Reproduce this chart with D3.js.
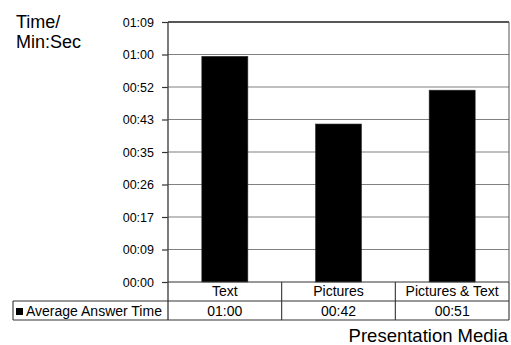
<!DOCTYPE html>
<html>
<head>
<meta charset="utf-8">
<script src="https://cdn.jsdelivr.net/npm/d3@7"></script>
<style>
  html, body { margin: 0; padding: 0; background: #fff; }
  svg { display: block; font-family: "Liberation Sans", Arial, Helvetica, sans-serif; }
</style>
</head>
<body>
<svg id="chart" width="511" height="345"></svg>
<script>
// Average answer time per presentation medium, in seconds
const categories = ["Text", "Pictures", "Pictures & Text"];
const seriesName = "Average Answer Time";
const answerSeconds = [60, 42, 51];
const answerLabels = ["01:00", "00:42", "00:51"];

// Axis ticks fall on 1/10000-day steps (8.64 s), labelled as rounded mm:ss
const tickValues = [0, 8.64, 17.28, 25.92, 34.56, 43.2, 51.84, 60.48, 69.12];
const tickLabels = ["00:00", "00:09", "00:17", "00:26", "00:35", "00:43", "00:52", "01:00", "01:09"];

const svg = d3.select("#chart");

const plot = { left: 168, right: 509, top: 22, bottom: 282 };
const row1Bottom = 301, row2Bottom = 320, tableLeft = 13;

const x = d3.scaleBand()
  .domain(categories)
  .range([plot.left, plot.right])
  .paddingInner(0.595)
  .paddingOuter(0.2975);

const y = d3.scaleLinear()
  .domain([0, 69.12])
  .range([plot.bottom, plot.top]);

// Horizontal gridlines
svg.append("g")
  .selectAll("line")
  .data(tickValues.slice(1))
  .join("line")
  .attr("x1", plot.left).attr("x2", plot.right)
  .attr("y1", d => y(d)).attr("y2", d => y(d))
  .attr("stroke", "#808080").attr("stroke-width", 1.2);

// Plot frame: top and right
svg.append("line")
  .attr("x1", plot.left).attr("x2", plot.right)
  .attr("y1", y(69.12)).attr("y2", y(69.12))
  .attr("stroke", "#333").attr("stroke-width", 1.4);
svg.append("line")
  .attr("x1", plot.right).attr("x2", plot.right)
  .attr("y1", plot.top).attr("y2", plot.bottom)
  .attr("stroke", "#555").attr("stroke-width", 1);

// Bars
svg.append("g")
  .selectAll("rect")
  .data(answerSeconds)
  .join("rect")
  .attr("x", (d, i) => x(categories[i]))
  .attr("width", x.bandwidth())
  .attr("y", d => y(d))
  .attr("height", d => y(0) - y(d))
  .attr("fill", "#000")
  .attr("stroke", "#333")
  .attr("stroke-width", 0.6);

// Value axis
const axis = d3.axisLeft(y)
  .tickValues(tickValues)
  .tickFormat((d, i) => tickLabels[i])
  .tickSize(6)
  .tickPadding(8);

const gAxis = svg.append("g")
  .attr("transform", `translate(${plot.left},0)`)
  .call(axis);
gAxis.select(".domain").remove();
gAxis.selectAll(".tick line").attr("stroke", "#333").attr("stroke-width", 1.2);
gAxis.selectAll(".tick text")
  .attr("fill", "#000")
  .style("font-size", "12.5px")
  .style("font-family", "'Liberation Sans', Arial, sans-serif");

// Vertical axis line extends down through the data table
svg.append("line")
  .attr("x1", plot.left).attr("x2", plot.left)
  .attr("y1", plot.top).attr("y2", row2Bottom)
  .attr("stroke", "#444").attr("stroke-width", 1.4);

// Data table under the plot
const tbl = svg.append("g").attr("stroke", "#333").attr("stroke-width", 1.1);
tbl.append("line").attr("x1", plot.left).attr("x2", plot.right).attr("y1", plot.bottom).attr("y2", plot.bottom);
tbl.append("line").attr("x1", tableLeft).attr("x2", plot.right).attr("y1", row1Bottom).attr("y2", row1Bottom);
tbl.append("line").attr("x1", tableLeft).attr("x2", plot.right).attr("y1", row2Bottom).attr("y2", row2Bottom);
tbl.append("line").attr("x1", tableLeft).attr("x2", tableLeft).attr("y1", row1Bottom).attr("y2", row2Bottom);

const step = x.step();
const cellEdges = categories.map((c, i) => plot.left + step * (i + 1));
tbl.selectAll("line.div")
  .data(cellEdges)
  .join("line")
  .attr("class", "div")
  .attr("x1", d => d).attr("x2", d => d)
  .attr("y1", plot.bottom).attr("y2", row2Bottom);

const cellCenter = c => x(c) + x.bandwidth() / 2;

svg.append("g")
  .selectAll("text")
  .data(categories)
  .join("text")
  .attr("x", d => cellCenter(d))
  .attr("y", 296)
  .attr("text-anchor", "middle")
  .style("font-size", "14px")
  .text(d => d);

svg.append("g")
  .selectAll("text")
  .data(answerLabels)
  .join("text")
  .attr("x", (d, i) => cellCenter(categories[i]))
  .attr("y", 316)
  .attr("text-anchor", "middle")
  .style("font-size", "14px")
  .text(d => d);

// Legend key inside the table's row header
svg.append("rect")
  .attr("x", 16).attr("y", 308)
  .attr("width", 7).attr("height", 7)
  .attr("fill", "#000");
svg.append("text")
  .attr("x", 26).attr("y", 316)
  .style("font-size", "14px")
  .text(seriesName);

// Axis titles
const yTitle = svg.append("text")
  .attr("x", 16)
  .style("font-size", "18px");
yTitle.append("tspan").attr("x", 16).attr("y", 28).text("Time/");
yTitle.append("tspan").attr("x", 16).attr("y", 48).text("Min:Sec");

svg.append("text")
  .attr("x", 508).attr("y", 342)
  .attr("text-anchor", "end")
  .style("font-size", "18.5px")
  .text("Presentation Media");
</script>
</body>
</html>
